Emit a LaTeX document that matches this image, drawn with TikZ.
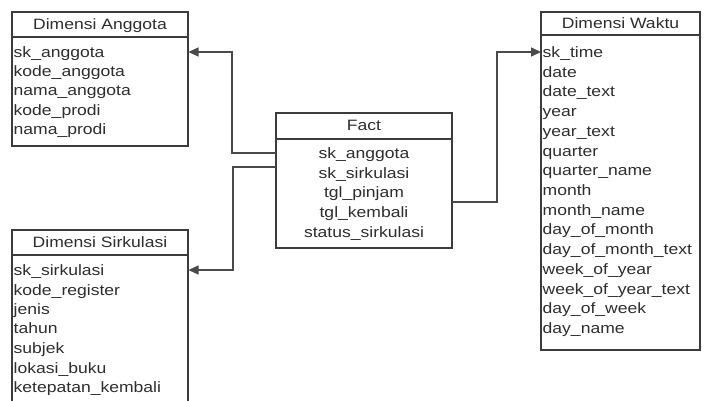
\documentclass[tikz,border=0pt]{standalone}
\usepackage{fontspec}
\setmainfont{Liberation Sans}[FakeStretch=1.17]
\usetikzlibrary{arrows.meta}
\definecolor{ln}{HTML}{3C3C3C}
\definecolor{cn}{HTML}{4A4A4A}
\definecolor{tx}{HTML}{2E2E2E}
\begin{document}
\begin{tikzpicture}[x=1pt,y=-1pt,
  box/.style={draw=ln, line width=1.2pt, inner sep=0pt, outer sep=0pt, anchor=north west, minimum width=176pt},
  hdr/.style={anchor=base, inner sep=0pt, text=tx, font=\fontsize{15}{17}\selectfont},
  row/.style={anchor=base west, inner sep=0pt, text=tx, font=\fontsize{15}{17}\selectfont},
  crow/.style={anchor=base, inner sep=0pt, text=tx, font=\fontsize{15}{17}\selectfont},
  conn/.style={draw=cn, line width=1.4pt},
  tip/.style={-{Triangle[length=10pt,width=9pt]}}]
\useasboundingbox (0,0) rectangle (705,401);
\clip (0,0) rectangle (705,401);
\fill[white] (0,0) rectangle (705,401);

% Dimensi Anggota
\node[box, minimum height=25pt] (ah) at (12,12) {};
\node[hdr] (aht) at (100,29.5) {Dimensi Anggota};
\node[box, minimum height=109pt] (ab) at (12,37) {};
\foreach \t [count=\i from 0] in {sk\_anggota,kode\_anggota,nama\_anggota,kode\_prodi,nama\_prodi}
  \node[row] (ar\i) at (13.5,57.5+19.2*\i) {\t};

% Dimensi Sirkulasi
\node[box, minimum height=25pt] (sh) at (12,230) {};
\node[hdr] (sht) at (100,247.5) {Dimensi Sirkulasi};
\node[box, minimum height=170pt] (sb) at (12,255) {};
\foreach \t [count=\i from 0] in {sk\_sirkulasi,kode\_register,jenis,tahun,subjek,lokasi\_buku,ketepatan\_kembali}
  \node[row] (sr\i) at (13.5,275.5+19.5*\i) {\t};

% Fact
\node[box, minimum height=26pt] (fh) at (276,113) {};
\node[hdr] (fht) at (364,131) {Fact};
\node[box, minimum height=109pt] (fb) at (276,139) {};
\foreach \t [count=\i from 0] in {sk\_anggota,sk\_sirkulasi,tgl\_pinjam,tgl\_kembali,status\_sirkulasi}
  \node[crow] (fr\i) at (364,158.5+19.75*\i) {\t};

% Dimensi Waktu
\node[box, minimum width=159pt, minimum height=23pt] (wh) at (541,12) {};
\node[hdr] (wht) at (620.5,28.5) {Dimensi Waktu};
\node[box, minimum width=159pt, minimum height=315pt] (wb) at (541,35) {};
\foreach \t [count=\i from 0] in {sk\_time,date,date\_text,year,year\_text,quarter,quarter\_name,month,month\_name,day\_of\_month,day\_of\_month\_text,week\_of\_year,week\_of\_year\_text,day\_of\_week,day\_name}
  \node[row] (wr\i) at (542.5,57.5+19.72*\i) {\t};

% connectors
\coordinate (fA) at (276,153);
\coordinate (aA) at (188.5,52);
\coordinate (fS) at (276,167);
\coordinate (sS) at (188.5,270);
\coordinate (fW) at (452,202);
\coordinate (wW) at (541,52);
\draw[conn, tip] (fA) -- ++(-44,0) |- (aA);
\draw[conn, tip] (fS) -- ++(-43,0) |- (sS);
\draw[conn, tip] (fW) -- ++(45,0) |- (wW);
\end{tikzpicture}
\end{document}
